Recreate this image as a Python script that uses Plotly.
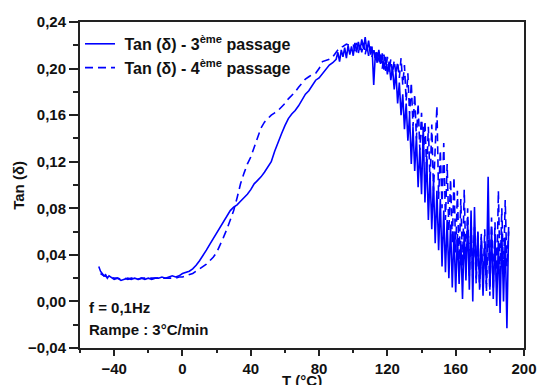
import plotly.graph_objects as go

# --- 3rd pass (solid) ---
temp_3 = [-49, -48, -47, -46, -45, -44, -43, -42] + list(range(-40, 89, 2)) + list(range(90, 192))
tan_3 = [
    0.030, 0.026, 0.024, 0.022, 0.023, 0.020, 0.022, 0.021,
    0.019, 0.020, 0.018, 0.019, 0.020, 0.019, 0.020, 0.019, 0.020, 0.019,
    0.020, 0.019, 0.020, 0.020, 0.021, 0.020, 0.021, 0.022, 0.021, 0.022,
    0.024, 0.025, 0.026, 0.028, 0.031, 0.035, 0.039, 0.044, 0.049, 0.054,
    0.059, 0.064, 0.069, 0.074, 0.078, 0.081, 0.083, 0.086, 0.089, 0.092,
    0.096, 0.101, 0.104, 0.107, 0.111, 0.116, 0.120, 0.129, 0.137, 0.144,
    0.151, 0.157, 0.161, 0.164, 0.168, 0.173, 0.178, 0.181, 0.185, 0.190,
    0.192, 0.196, 0.199, 0.203, 0.205,
    # 90 .. 111
    0.208, 0.214, 0.206, 0.216, 0.210, 0.218, 0.209, 0.220, 0.212, 0.219,
    0.211, 0.222, 0.214, 0.223, 0.216, 0.225, 0.217, 0.227, 0.215, 0.224,
    0.212, 0.219,
    # 112 .. 191
    0.186, 0.214, 0.205, 0.216, 0.204, 0.213, 0.199, 0.210, 0.195, 0.206,
    0.190, 0.201, 0.182, 0.197, 0.170, 0.188, 0.160, 0.178, 0.148, 0.170,
    0.138, 0.160, 0.118, 0.150, 0.112, 0.142, 0.098, 0.132, 0.092, 0.150,
    0.085, 0.125, 0.070, 0.110, 0.062, 0.104, 0.050, 0.095, 0.044, 0.088,
    0.030, 0.078, 0.025, 0.070, 0.020, 0.066, 0.012, 0.060, 0.008, 0.058,
    0.015, 0.052, 0.002, 0.060, 0.018, 0.070, 0.010, 0.078, 0.000, 0.081,
    0.020, 0.060, 0.012, 0.055, 0.005, 0.050, 0.015, 0.107, 0.010, 0.062,
    0.002, 0.058, -0.004, 0.052, -0.010, 0.060, 0.000, 0.055, -0.023, 0.064,
]

# --- 4th pass (dashed) ---
temp_4 = list(range(-48, 99, 2)) + list(range(100, 192))
tan_4 = [
    0.024, 0.022, 0.021, 0.021, 0.020, 0.020, 0.019, 0.020, 0.019, 0.020,
    0.020, 0.019, 0.020, 0.020, 0.020, 0.020, 0.020, 0.020, 0.020, 0.020,
    0.020, 0.020, 0.020, 0.021, 0.021,
    0.022, 0.023, 0.024, 0.026, 0.028, 0.030, 0.032, 0.035, 0.038, 0.042,
    0.048, 0.055, 0.062, 0.070, 0.078, 0.089, 0.101, 0.110, 0.118, 0.124,
    0.132, 0.141, 0.149, 0.154, 0.157, 0.160, 0.162, 0.164, 0.167, 0.170,
    0.174, 0.177, 0.180, 0.184, 0.188, 0.191, 0.193, 0.195, 0.196, 0.200,
    0.206, 0.207, 0.208, 0.210, 0.214, 0.218, 0.219, 0.221, 0.220,
    # 100 .. 191
    0.221, 0.215, 0.222, 0.213, 0.221, 0.214, 0.222, 0.212, 0.220, 0.211,
    0.219, 0.210, 0.218, 0.206, 0.216, 0.204, 0.214, 0.200, 0.212, 0.198,
    0.210, 0.197, 0.208, 0.196, 0.207, 0.195, 0.206, 0.192, 0.209, 0.186,
    0.203, 0.172, 0.196, 0.160, 0.188, 0.150, 0.178, 0.140, 0.170, 0.130,
    0.162, 0.122, 0.155, 0.112, 0.150, 0.100, 0.152, 0.095, 0.140, 0.168,
    0.088, 0.130, 0.080, 0.136, 0.070, 0.118, 0.060, 0.105, 0.050, 0.107,
    0.042, 0.095, 0.035, 0.088, 0.030, 0.096, 0.028, 0.080, 0.022, 0.070,
    0.020, 0.064, 0.015, 0.060, 0.010, 0.058, 0.012, 0.062, 0.008, 0.070,
    0.005, 0.072, 0.010, 0.068, 0.015, 0.095, 0.020, 0.080, 0.025, 0.087,
    0.030, 0.060,
]

assert len(temp_3) == len(tan_3)
assert len(temp_4) == len(tan_4)

x_ticks = [-40, 0, 40, 80, 120, 160, 200]
y_ticks = [-0.04, 0.00, 0.04, 0.08, 0.12, 0.16, 0.20, 0.24]

FONT = "Liberation Sans, Arial, sans-serif"
BLUE = "#0000FF"
INK = "#111"
TXT = dict(family=FONT, size=15, color=INK, weight="bold")

fig = go.Figure()
fig.add_trace(go.Scatter(
    x=temp_3, y=tan_3, mode="lines",
    name="\u00a0Tan (δ) - 3<sup>ème</sup> passage",
    line=dict(color=BLUE, width=1.6),
))
fig.add_trace(go.Scatter(
    x=temp_4, y=tan_4, mode="lines",
    name="\u00a0Tan (δ) - 4<sup>ème</sup> passage",
    line=dict(color=BLUE, width=1.6, dash="8px,5px"),
))

axis_common = dict(
    showgrid=False, zeroline=False,
    showline=True, linecolor="#222", linewidth=2, mirror=True,
    ticks="outside", tickcolor="#222", tickwidth=1.5,
    tickfont=TXT,
    automargin=False,
)

fig.update_xaxes(
    range=[-60, 200], tickvals=x_ticks, ticklen=6,
    minor=dict(ticks="outside", dtick=20, tick0=0, ticklen=3, tickcolor="#222", tickwidth=1.5),
    **axis_common,
)
fig.update_yaxes(
    range=[-0.04, 0.24], tickvals=y_ticks, tickformat=".2f", ticklen=9,
    minor=dict(ticks="outside", dtick=0.02, tick0=0, ticklen=5, tickcolor="#222", tickwidth=1.5),
    **axis_common,
)

# axis titles placed as paper annotations so they sit just outside the frame
fig.add_annotation(x=0.5, y=-0.068, xref="paper", yref="paper",
                   text="T (°C)", showarrow=False, xanchor="center", yanchor="top",
                   font=TXT)
fig.add_annotation(x=-0.14, y=0.5, xref="paper", yref="paper",
                   text="Tan (δ)", showarrow=False, textangle=-90,
                   xanchor="center", yanchor="middle", font=TXT)

fig.add_annotation(x=0.015, y=0.125, xref="paper", yref="paper",
                   text="f = 0,1Hz", showarrow=False, xanchor="left", yanchor="middle",
                   font=TXT)
fig.add_annotation(x=0.015, y=0.058, xref="paper", yref="paper",
                   text="Rampe : 3°C/min", showarrow=False, xanchor="left", yanchor="middle",
                   font=TXT)

fig.update_layout(
    width=539, height=385,
    margin=dict(l=80, r=15, t=22, b=37),
    paper_bgcolor="white", plot_bgcolor="white",
    separators=",.",
    showlegend=True,
    legend=dict(
        x=0.0, y=0.985, xanchor="left", yanchor="top",
        bgcolor="rgba(0,0,0,0)", borderwidth=0,
        font=dict(family=FONT, size=16, color=INK, weight="bold"),
        tracegroupgap=0,
    ),
)

fig.write_html("out.html")
